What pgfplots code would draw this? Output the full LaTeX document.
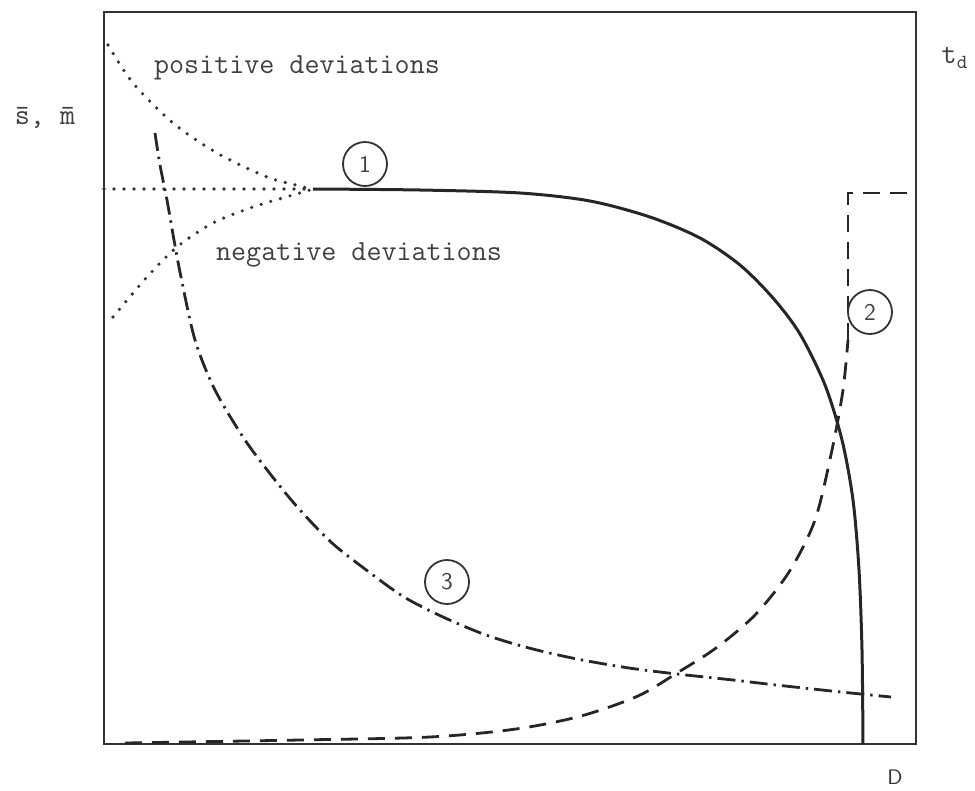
\documentclass[border=0pt]{standalone}
\usepackage{pgfplots}
\pgfplotsset{compat=1.18}
\begin{document}
\begin{tikzpicture}
\begin{axis}[
  scale only axis, width=406pt, height=366pt,
  xmin=104, xmax=916, ymin=12, ymax=744, y dir=reverse,
  ticks=none, clip=false,
  axis line style={line width=1.4pt, black!80},
]
\draw[draw=none] (axis cs:0,0) rectangle (axis cs:975,788);
% dotted deviations
\addplot[black!80, line width=1.8pt, line cap=round, dash pattern=on 0pt off 5pt] coordinates {(104,189) (310,189)};
\addplot[black!80, line width=1.8pt, line cap=round, dash pattern=on 0pt off 5pt, smooth] coordinates {(108,45) (133,83) (173,123) (217,153) (267,177) (300,186) (310,189)};
\addplot[black!80, line width=1.8pt, line cap=round, dash pattern=on 0pt off 5pt, smooth] coordinates {(113,317) (147,277) (177,247) (213,223) (253,207) (293,195) (310,190)};
% curve 1
\addplot[black!85, line width=1.5pt, smooth] coordinates {(313,189) (420,190) (520,193) (590,201) (650,217) (700,238) (740,265) (773,298) (800,334) (825,385) (842,440) (853,500) (859,570) (862,650) (863,744)};
% curve 2
\addplot[black!85, line width=1.4pt, dash pattern=on 8.5pt off 5pt, smooth] coordinates {(125,743) (300,740) (430,737) (516,729) (581,716) (638,696) (677,673) (716,648) (755,615) (789,572) (815,520) (832,450) (843,390) (848,340)};
\addplot[black!85, line width=1.4pt, dash pattern=on 8.5pt off 5pt] coordinates {(848,340) (848,193) (916,193)};
% curve 3
\addplot[black!85, line width=1.4pt, dash pattern=on 9pt off 3pt on 1.2pt off 3pt, smooth] coordinates {(155,133) (160,165) (167,200) (174,240) (181,277) (195,340) (215,390) (245,440) (275,480) (300,510) (332,543) (369,572) (404,597) (443,617) (486,635) (529,648) (577,659) (629,668) (677,674) (733,680) (776,685) (841,692) (891,697)};
% labels
\node[font=\ttfamily\fontsize{14.6}{17}\selectfont, text=black!75] at (297,68) {positive deviations};
\node[font=\ttfamily\fontsize{14.6}{17}\selectfont, text=black!75] at (359,255) {negative deviations};
\node[font=\ttfamily\fontsize{14.6}{17}\selectfont, text=black!75] at (45,118) {\={s}, \={m}};
\node[font=\ttfamily\fontsize{14.6}{17}\selectfont, text=black!75] at (955,58) {t$_{\mathtt{d}}$};
\node[font=\sffamily\fontsize{10.5}{12}\selectfont, text=black!80] at (895,777) {D};
\node[circle, draw=black!80, line width=0.9pt, minimum size=22pt, inner sep=0pt, font=\sffamily\fontsize{12}{14}\selectfont, text=black!75] at (365,164) {1};
\node[circle, draw=black!80, line width=0.9pt, minimum size=22pt, inner sep=0pt, font=\sffamily\fontsize{12}{14}\selectfont, text=black!75] at (870,312) {2};
\node[circle, draw=black!80, line width=0.9pt, minimum size=22pt, inner sep=0pt, font=\sffamily\fontsize{12}{14}\selectfont, text=black!75] at (447,582) {3};
\end{axis}
\end{tikzpicture}
\end{document}
